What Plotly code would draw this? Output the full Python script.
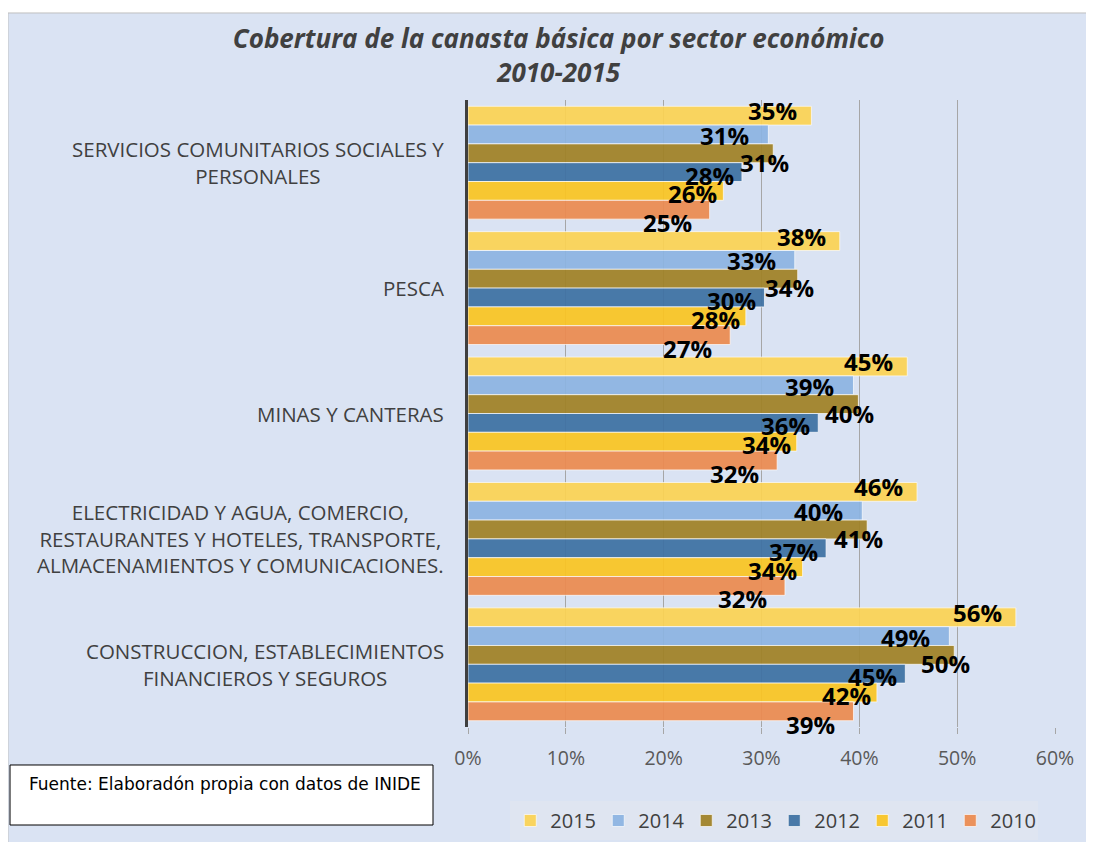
import plotly.graph_objects as go

# ============================ DATA ===============================
sectores = [
    "SERVICIOS COMUNITARIOS SOCIALES Y<br>PERSONALES",
    "PESCA",
    "MINAS Y CANTERAS",
    "ELECTRICIDAD Y AGUA, COMERCIO,<br>RESTAURANTES Y HOTELES, TRANSPORTE,<br>ALMACENAMIENTOS Y COMUNICACIONES.",
    "CONSTRUCCION, ESTABLECIMIENTOS<br>FINANCIEROS Y SEGUROS",
]
anios = ["2015", "2014", "2013", "2012", "2011", "2010"]

v2015 = [0.351, 0.380, 0.449, 0.459, 0.560]
v2014 = [0.307, 0.334, 0.394, 0.403, 0.492]
v2013 = [0.312, 0.337, 0.399, 0.408, 0.497]
v2012 = [0.280, 0.303, 0.358, 0.366, 0.447]
v2011 = [0.261, 0.284, 0.336, 0.342, 0.418]
v2010 = [0.247, 0.268, 0.316, 0.324, 0.394]
valores = [v2015, v2014, v2013, v2012, v2011, v2010]

colores = ["#FCD354", "#8DB4E2", "#A08226", "#3E71A3", "#FAC523", "#EC8B50"]
# label offsets per series (px): xshift from bar end, yshift
lbl_style = [(-12, 5), (-17, -1), (18, -9), (-6, -3), (-4, -3), (-16, -13)]

BARGAP = 0.1
FONT = "Open Sans"

# ============================ FIGURE ===============================
fig = go.Figure()
for anio, vals, col in zip(anios, valores, colores):
    fig.add_bar(
        y=sectores, x=vals, name=anio, orientation="h",
        marker=dict(color=col, line=dict(color="rgba(255,255,255,0.7)", width=1)),
        opacity=0.93,
    )

# data labels
n = len(anios)
for si, vals in enumerate(valores):
    dx, dy = lbl_style[si]
    for ci, v in enumerate(vals):
        fig.add_annotation(
            x=v, y=ci + (si - (n - 1) / 2) * (1 - BARGAP) / n,
            text=f"{round(v * 100):.0f}%", showarrow=False,
            xanchor="right", yanchor="middle", xshift=dx, yshift=dy,
            font=dict(family=FONT, size=24, color="black", weight="bold"),
        )

# category labels (block right-aligned, lines centered)
for ci, s in enumerate(sectores):
    fig.add_annotation(
        xref="paper", x=0, y=ci, text=s, showarrow=False,
        xanchor="right", yanchor="middle", xshift=-22, align="center",
        font=dict(family=FONT, size=20.5, color="#404040"),
    )

# background panel / source box
fig.add_shape(type="rect", xref="paper", yref="paper", x0=-0.7837, x1=1.07, y0=-0.2, y1=1.1388,
              fillcolor="#DAE3F3", line=dict(color="#BFBFBF", width=1), layer="below")
fig.add_shape(type="rect", xref="paper", yref="paper", x0=-0.7802, x1=-0.0596, y0=-0.1563, y1=-0.0606,
              fillcolor="white", line=dict(color="black", width=1))
fig.add_annotation(xref="paper", yref="paper", x=-0.752, y=-0.072, xanchor="left", yanchor="top",
                   text="Fuente: Elaboradón propia con datos de INIDE", showarrow=False,
                   font=dict(family="DejaVu Sans", size=17, color="black"))

fig.update_layout(
    width=1086, height=834,
    barmode="group", bargap=BARGAP, bargroupgap=0,
    paper_bgcolor="white", plot_bgcolor="rgba(0,0,0,0)",
    margin=dict(l=460, r=39, t=92, b=115, autoexpand=False),
    font=dict(family=FONT, color="#404040"),
    title=dict(
        text="<i><b>Cobertura de la canasta básica por sector económico<br>2010-2015</b></i>",
        x=0.507, xanchor="center", y=0.952, yanchor="top",
        font=dict(family=FONT, size=26, color="#404040"),
    ),
    showlegend=True,
    legend=dict(
        orientation="h", x=0.072, y=-0.118, xanchor="left", yanchor="top",
        bgcolor="#DFE5F1", font=dict(family=FONT, size=20, color="#404040"),
        traceorder="normal", itemwidth=30, entrywidth=43, entrywidthmode="pixels",
    ),
    xaxis=dict(
        range=[0, 0.6], dtick=0.1, tickformat=".0%",
        showgrid=True, gridcolor="#A6A6A6", gridwidth=1, zeroline=False,
        ticks="outside", ticklen=6, tickcolor="#A6A6A6", ticklabelstandoff=8,
        tickfont=dict(family=FONT, size=19.5, color="#595959"),
    ),
    yaxis=dict(
        autorange="reversed", showticklabels=False, showgrid=False,
        showline=True, linewidth=3, linecolor="#3F3F3F", ticks="",
    ),
)

fig.write_html("out.html")
